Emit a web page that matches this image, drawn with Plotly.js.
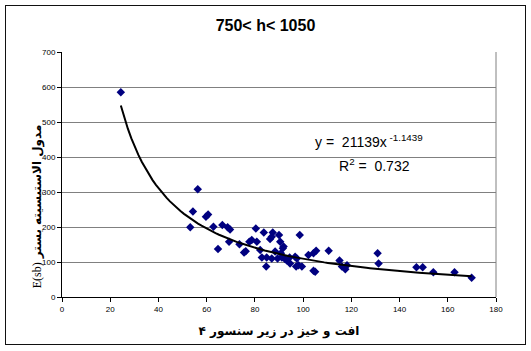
<!DOCTYPE html>
<html>
<head>
<meta charset="utf-8">
<script src="https://cdn.plot.ly/plotly-3.0.1.min.js"></script>
<style>
  html, body { margin: 0; padding: 0; background: #fff; }
  #wrap { position: relative; width: 531px; height: 351px; }
  #chart { position: absolute; left: 0; top: 0; width: 531px; height: 351px; }
  #frame { position: absolute; left: 5px; top: 5px; width: 519px; height: 338px; border: 1.5px solid #111; pointer-events: none; }
</style>
</head>
<body>
<div id="wrap"><div id="chart"></div><div id="frame"></div></div>
<script>
// Data
const fluctuation = [24.4, 53.2, 54.3, 56.3, 59.7, 60.6, 62.8, 64.7, 66.5, 68.7, 69.3, 69.7, 73.6, 75.5, 76.2, 77.7, 78.7, 80.4, 80.8, 82.2, 82.9, 83.7, 84.7, 84.9, 86.3, 87.0, 87.0, 87.4, 88.4, 89.4, 90.0, 90.5, 90.8, 91.2, 91.6, 91.9, 92.6, 93.3, 94.4, 94.6, 96.7, 97.1, 97.4, 98.1, 98.6, 99.5, 102.2, 104.3, 104.3, 105.0, 105.4, 110.6, 115.1, 116.1, 117.5, 118.2, 130.9, 131.3, 147.0, 149.6, 154.0, 162.8, 169.9];
const modulus     = [585, 199, 244, 308, 229, 236, 201, 137, 206, 199, 158, 193, 151, 127, 131, 158, 163, 196, 158, 134, 113, 184, 87, 113, 166, 172, 110, 184, 130, 110, 177, 158, 125, 113, 139, 144, 108, 104, 113, 96, 115, 87, 110, 91, 177, 87, 120, 125, 75, 72, 132, 132, 104, 87, 79, 91, 125, 96, 85, 85, 71, 71, 55];

// Power trendline shown on the chart: y = 21139 x^-1.1439, drawn from min x to max x
const trendCoef = 21139;
const trendExp = -1.1439;
const xMin = Math.min(...fluctuation), xMax = Math.max(...fluctuation);
const trendX = [];
for (let i = 0; i <= 100; i++) trendX.push(xMin + (xMax - xMin) * i / 100);
const trendY = trendX.map(x => trendCoef * Math.pow(x, trendExp));

const xTicks = [0, 20, 40, 60, 80, 100, 120, 140, 160, 180];
const yTicks = [0, 100, 200, 300, 400, 500, 600, 700];

const chartTitle = '750< h< 1050';
const xTitle = 'افت و خیز در زیر سنسور ۴';
const yTitle = '<span style="font-family:\'Liberation Serif\';font-weight:normal">E(sb)</span> مدول الاستیسیته بستر';
const eqText = 'y =  21139x<sup> -1.1439</sup>';
const r2Text = 'R<sup>2</sup> =  0.732';

const traces = [
  {
    x: fluctuation, y: modulus, type: 'scatter', mode: 'markers',
    marker: { symbol: 'diamond', size: 6.5, color: '#000080', line: { width: 0 } },
    hoverinfo: 'x+y', showlegend: false
  },
  {
    x: trendX, y: trendY, type: 'scatter', mode: 'lines',
    line: { color: '#000', width: 2 }, hoverinfo: 'skip', showlegend: false
  }
];

const layout = {
  width: 531, height: 351,
  margin: { l: 62, r: 35, t: 52, b: 54, pad: 0 },
  paper_bgcolor: 'rgba(0,0,0,0)', plot_bgcolor: '#fff',
  font: { family: 'Liberation Sans, Arial, sans-serif', color: '#000' },
  title: {
    text: '<b>' + chartTitle + '</b>', font: { size: 16, family: 'Liberation Sans, Arial, sans-serif' },
    x: 0.5, xref: 'container', y: 0.927, yref: 'container', yanchor: 'middle'
  },
  xaxis: {
    range: [0, 180], tickvals: xTicks, ticktext: xTicks.map(String),
    showgrid: false, zeroline: false,
    showline: true, linecolor: '#000', linewidth: 1,
    ticks: 'outside', ticklen: 4, tickcolor: '#000', tickwidth: 1,
    tickfont: { size: 8 },
    title: { text: '<b>' + xTitle + '</b>', font: { size: 12, family: 'DejaVu Sans, Liberation Sans, sans-serif' }, standoff: 14 }
  },
  yaxis: {
    range: [0, 700], tickvals: yTicks, ticktext: yTicks.map(String),
    showgrid: true, gridcolor: '#808080', gridwidth: 1, zeroline: false,
    showline: true, linecolor: '#000', linewidth: 1,
    ticks: 'outside', ticklen: 4, tickcolor: '#000', tickwidth: 1,
    tickfont: { size: 8 }
  },
  shapes: [
    { type: 'line', xref: 'paper', yref: 'paper', x0: 1, x1: 1, y0: 0, y1: 1, line: { color: '#808080', width: 1 } }
  ],
  annotations: [
    { xref: 'paper', yref: 'paper', x: -0.0576, y: 0.37, xanchor: 'center', yanchor: 'middle', textangle: -90,
      text: '<b>' + yTitle + '</b>', showarrow: false, font: { size: 12, family: 'DejaVu Sans, Liberation Sans, sans-serif' } },
    { xref: 'x', yref: 'y', x: 104.2, y: 446, xanchor: 'left', yanchor: 'middle', text: eqText, showarrow: false,
      font: { size: 14, family: 'Liberation Sans, Arial, sans-serif' } },
    { xref: 'x', yref: 'y', x: 114.2, y: 377, xanchor: 'left', yanchor: 'middle', text: r2Text, showarrow: false,
      font: { size: 14, family: 'Liberation Sans, Arial, sans-serif' } }
  ]
};

Plotly.newPlot('chart', traces, layout, { displayModeBar: false, staticPlot: true });
</script>
</body>
</html>
